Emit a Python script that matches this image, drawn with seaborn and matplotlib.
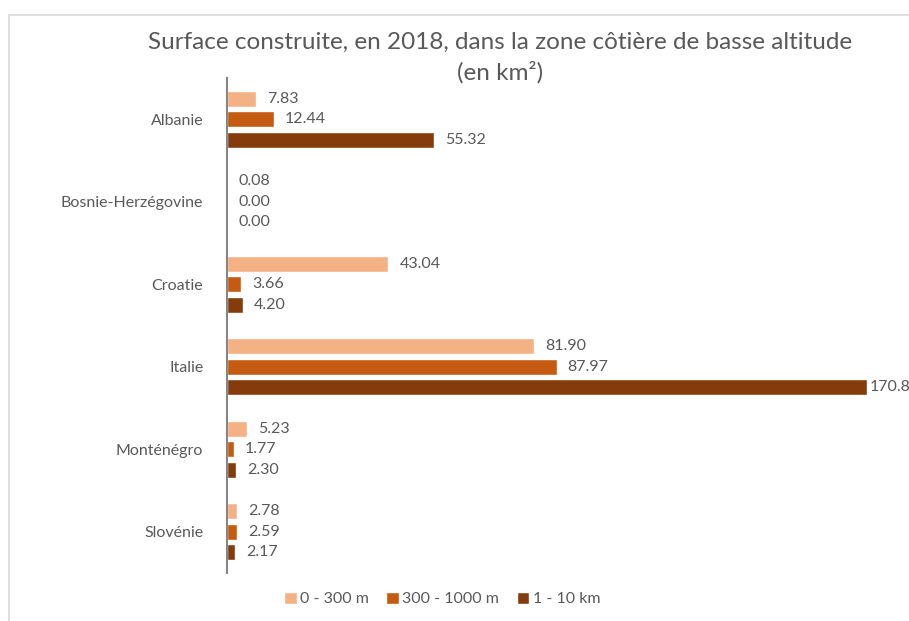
import pandas as pd
import matplotlib.pyplot as plt
import matplotlib.patches as mpatches
import seaborn as sns

# ── Data ───────────────────────────────────────────────────────────────────────
countries = ["Albanie", "Bosnie-Herzégovine", "Croatie", "Italie", "Monténégro", "Slovénie"]
series = ["0 - 300 m", "300 - 1000 m", "1 - 10 km"]
val_0_300 = [7.83, 0.08, 43.04, 81.90, 5.23, 2.78]
val_300_1000 = [12.44, 0.00, 3.66, 87.97, 1.77, 2.59]
val_1_10 = [55.32, 0.00, 4.20, 170.83, 2.30, 2.17]

COLORS = ["#F4B183", "#C55A11", "#843C0C"]
TEXT = "#595959"

df = pd.DataFrame({
    "pays": countries * 3,
    "zone": [series[0]] * 6 + [series[1]] * 6 + [series[2]] * 6,
    "km2": val_0_300 + val_300_1000 + val_1_10,
})

sns.set_theme(style="white")
plt.rcParams["font.family"] = ["Lato", "DejaVu Sans"]

fig = plt.figure(figsize=(9.09, 6.21), dpi=100)
ax = fig.add_axes([0.2497, 0.0773, 0.7503, 0.797])

sns.barplot(data=df, y="pays", x="km2", hue="zone", order=countries,
            hue_order=series, palette=COLORS, orient="h", width=0.745,
            gap=0.22, ax=ax, saturation=1, errorbar=None)

ax.set_xlim(0, 182)
for cont in ax.containers:
    # labels that would run past the chart sit tight against the bar, like Excel
    pads = [2 if bar.get_width() > 160 else 8 for bar in cont]
    for bar, pad in zip(cont, pads):
        t = ax.annotate(f"{bar.get_width():.2f}",
                        (bar.get_width(), bar.get_y() + bar.get_height() / 2),
                        xytext=(pad, 0), textcoords="offset points",
                        ha="left", va="center", fontsize=11.5, color=TEXT)
        t.set_clip_on(False)

ax.set_ylim(5.5, -0.5)
ax.set_xlabel("")
ax.set_ylabel("")
ax.xaxis.set_visible(False)
for s in ["top", "right", "bottom"]:
    ax.spines[s].set_visible(False)
ax.spines["left"].set_color("#868686")
ax.spines["left"].set_linewidth(1.5)
ax.tick_params(axis="y", left=False, pad=11, labelsize=11.5, labelcolor=TEXT)

ax.legend(loc="center", bbox_to_anchor=(442 / 909, 1 - 599 / 621),
          bbox_transform=fig.transFigure, ncol=3, frameon=False,
          fontsize=11.5, labelcolor=TEXT, handlelength=0.8, handleheight=0.8,
          handletextpad=0.2, columnspacing=1.1)

fig.text(500 / 909, 1 - 42 / 621,
         "Surface construite, en 2018, dans la zone côtière de basse altitude",
         ha="center", va="center", fontsize=17.5, color=TEXT)
fig.text(500 / 909, 1 - 72 / 621, "(en km²)",
         ha="center", va="center", fontsize=17.5, color=TEXT)

# chart border (Excel style)
fig.patches.append(mpatches.Rectangle((9 / 909, -0.1), 1.2, 1 - 15 / 621 + 0.1,
                                      transform=fig.transFigure, fill=False,
                                      edgecolor="#D9D9D9", linewidth=1.2))

fig.savefig("out.png", dpi=100)
